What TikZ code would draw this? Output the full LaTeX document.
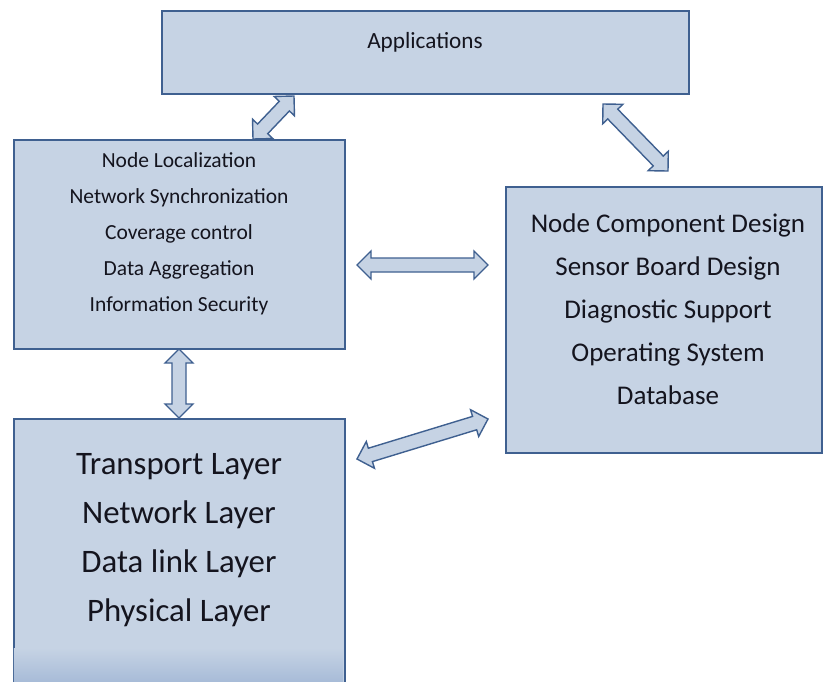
\documentclass[tikz,border=0pt]{standalone}
\usepackage{fontspec}
\setmainfont{Carlito}
\usetikzlibrary{calc}
\definecolor{boxfill}{HTML}{C6D3E4}
\definecolor{boxline}{HTML}{3F6090}
\definecolor{boxdark}{HTML}{A8BCD8}
\definecolor{txt}{HTML}{14141E}
\newcommand\dblarrow[2]{%
  \draw[blockarrow] (#1)
   -- ($(#1)!14pt!(#2)!14pt!90:(#2)$)
   -- ($(#1)!14pt!(#2)!7pt!90:(#2)$)
   -- ($(#2)!14pt!(#1)!7pt!-90:(#1)$)
   -- ($(#2)!14pt!(#1)!14pt!-90:(#1)$)
   -- (#2)
   -- ($(#2)!14pt!(#1)!14pt!90:(#1)$)
   -- ($(#2)!14pt!(#1)!7pt!90:(#1)$)
   -- ($(#1)!14pt!(#2)!7pt!-90:(#2)$)
   -- ($(#1)!14pt!(#2)!14pt!-90:(#2)$)
   -- cycle;}
\begin{document}
\begin{tikzpicture}[x=1pt,y=-1pt,
  panel/.style={draw=boxline, line width=1.6pt, fill=boxfill, inner sep=0pt, anchor=north west},
  blockarrow/.style={draw=boxline, line width=1.4pt, fill=boxfill, line join=miter},
  small/.style={text=txt, align=center, font=\fontsize{21.5}{36}\selectfont},
  medium/.style={text=txt, align=center, font=\fontsize{27}{43}\selectfont},
  large/.style={text=txt, align=center, font=\fontsize{32.8}{49}\selectfont}]
\useasboundingbox (0,0) rectangle (823,681);
\clip (0,0) rectangle (823,681);

% boxes
\node[panel, minimum width=527pt, minimum height=83pt] (app) at (161,10) {};
\node[panel, minimum width=331pt, minimum height=209pt] (loc) at (13,139) {};
\node[panel, minimum width=316pt, minimum height=266pt] (hw) at (505,186) {};
\node[panel, minimum width=331pt, minimum height=290pt] (stack) at (13,418) {};
\shade[top color=boxfill, bottom color=boxdark] (13.8,648) rectangle (343.2,681);

% texts
\node[small, font=\fontsize{23.2}{26}\selectfont] (apptxt) at (425,42) {Applications};
\node[small] (loctxt) at (179,234) {Node Localization\\Network Synchronization\\Coverage control\\Data Aggregation\\Information Security};
\node[medium] (hwtxt) at (668,309) {Node Component Design\\Sensor Board Design\\Diagnostic Support\\Operating System\\Database};
\node[large] (stacktxt) at (179,540) {Transport Layer\\Network Layer\\Data link Layer\\Physical Layer};

% arrow end points
\coordinate (a1s) at (253,139);
\coordinate (a1e) at (294,96);
\coordinate (a2s) at (603,104);
\coordinate (a2e) at (668,171);
\coordinate (a3s) at (357,265);
\coordinate (a3e) at (488,265);
\coordinate (a4s) at (179,349);
\coordinate (a4e) at (179,418);
\coordinate (a5s) at (357,459);
\coordinate (a5e) at (488,419);

\dblarrow{a1s}{a1e}
\dblarrow{a2s}{a2e}
\dblarrow{a3s}{a3e}
\dblarrow{a4s}{a4e}
\dblarrow{a5s}{a5e}
\end{tikzpicture}
\end{document}
